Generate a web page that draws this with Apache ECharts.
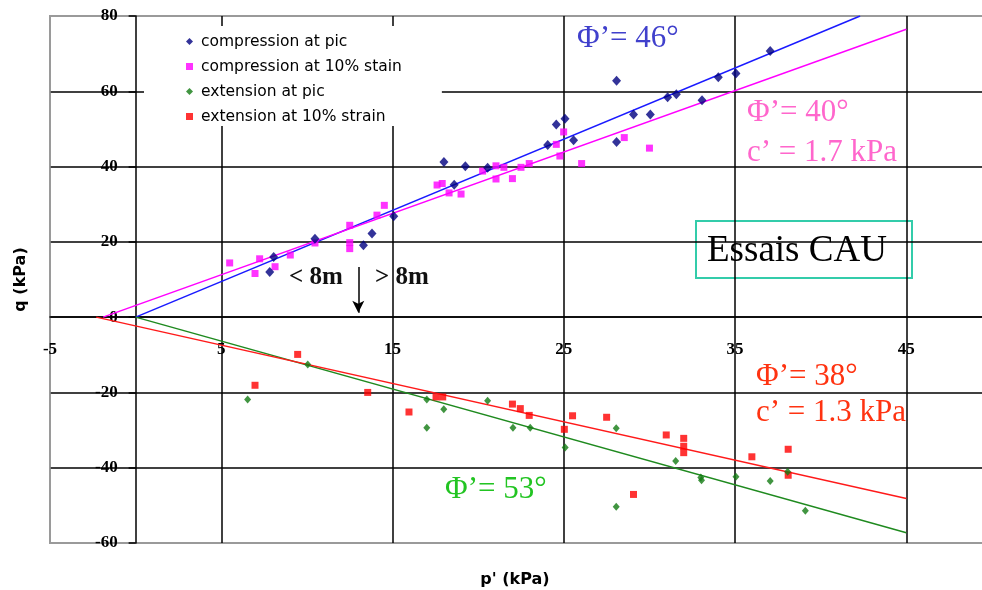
<!DOCTYPE html>
<html>
<head>
<meta charset="utf-8">
<script src="https://cdn.jsdelivr.net/npm/echarts@6/dist/echarts.min.js"></script>
<style>html,body{margin:0;padding:0;background:#fff;}#chart{width:982px;height:590px;}</style>
</head>
<body>
<div id="chart"></div>
<script>
// ---- data (p' kPa, q kPa) ----
const seriesNames = ['compression at pic', 'compression at 10% stain', 'extension at pic', 'extension at 10% strain'];

const compPicP = [7.83, 8.06, 10.47, 13.3, 13.8, 15.07, 18.0, 18.6, 19.25, 20.55, 24.06, 24.56, 25.07, 25.57, 28.08, 28.08, 29.07, 30.05, 31.06, 31.57, 33.07, 34.02, 35.05, 37.05];
const compPicQ = [12.0, 16.0, 20.8, 19.1, 22.2, 26.8, 41.2, 35.2, 40.1, 39.7, 45.7, 51.2, 52.7, 47.0, 62.8, 46.5, 53.8, 53.8, 58.4, 59.2, 57.6, 63.7, 64.7, 70.7];

const compStrainP = [5.49, 6.97, 7.24, 8.14, 9.03, 10.47, 12.5, 12.5, 12.5, 14.09, 14.52, 17.6, 17.9, 18.3, 19.0, 20.26, 21.04, 21.5, 21.04, 22.0, 22.5, 22.98, 24.56, 24.77, 24.99, 26.04, 28.53, 30.0];
const compStrainQ = [14.4, 11.6, 15.5, 13.4, 16.5, 19.7, 24.4, 19.8, 18.2, 27.1, 29.7, 35.1, 35.5, 33.0, 32.7, 38.8, 40.2, 39.8, 36.7, 36.8, 39.8, 40.8, 45.9, 42.8, 49.2, 40.8, 47.7, 44.9];

const extPicP = [6.54, 10.05, 17.0, 17.0, 17.99, 20.55, 22.03, 23.04, 25.08, 28.06, 28.06, 31.53, 33.0, 33.04, 35.05, 37.05, 38.07, 39.1];
const extPicQ = [-21.9, -12.6, -21.9, -29.4, -24.5, -22.2, -29.4, -29.4, -34.6, -29.5, -50.4, -38.2, -42.6, -43.3, -42.4, -43.5, -41.1, -51.4];

const extStrainP = [6.97, 9.46, 13.55, 15.96, 17.54, 17.93, 22.0, 22.46, 22.98, 25.03, 25.51, 27.5, 29.07, 30.98, 32.0, 32.0, 32.0, 35.98, 38.1, 38.1];
const extStrainQ = [-18.1, -9.9, -20.0, -25.2, -21.2, -21.2, -23.1, -24.3, -26.1, -29.8, -26.2, -26.6, -47.1, -31.3, -32.2, -34.3, -36.0, -37.1, -35.1, -42.0];

// failure lines (end points)
const lineComp46 = [[0, 0], [42.3, 80]];
const lineComp40 = [[-1.9, 0], [45, 76.5]];
const lineExt53 = [[0, 0], [45, -57.3]];
const lineExt38 = [[-2.3, 0], [45, -48.2]];

// depth arrow
const depthArrow = [[13, 13.3], [13, 1.2]];

// axis ranges / ticks
const xMin = -5, xMax = 50;
const yMin = -60, yMax = 80;
const xTickLabels = [-5, 5, 15, 25, 35, 45];

const pairs = (a, b) => a.map((v, i) => [v, b[i]]);

const chart = echarts.init(document.getElementById('chart'));

const serif = '"Liberation Serif", "Times New Roman", serif';
const sansB = '"DejaVu Sans", sans-serif';

// grid geometry
const G = { left: 50, top: 16, width: 942, height: 527 };
// place axes through the origin (offset inward from grid edges)
const xAxisOffset = -(G.height * (0 - yMin) / (yMax - yMin));
const yAxisOffset = -(G.width * (0 - xMin) / (xMax - xMin));

// split line colours (boundary lines grey)
const xSplit = [];
for (let v = xMin; v <= xMax; v += 5) {
  if (v === xMin) xSplit.push('#9a9a9a');
  else if (xTickLabels.indexOf(v) >= 0) xSplit.push('#000');
  else xSplit.push('rgba(0,0,0,0)');
}
const ySplit = [];
for (let v = yMin; v <= yMax; v += 20) ySplit.push((v === yMin || v === yMax) ? '#9a9a9a' : '#000');

const lineSeries = (data, color) => ({
  type: 'line', data: data, showSymbol: false, symbol: 'none', silent: true,
  lineStyle: { color: color, width: 1.5 }, z: 3, animation: false
});

const option = {
  animation: false,
  backgroundColor: '#fff',
  grid: {
    left: G.left, top: G.top, width: G.width, height: G.height,
    containLabel: false, outerBoundsMode: 'none',
    show: true, borderColor: '#9a9a9a', borderWidth: 2, backgroundColor: 'transparent'
  },
  xAxis: {
    type: 'value', min: xMin, max: xMax, interval: 5,
    position: 'bottom', offset: xAxisOffset,
    name: "p' (kPa)", nameLocation: 'middle', nameGap: 255,
    nameTextStyle: { fontFamily: sansB, fontWeight: 'bold', fontSize: 16, color: '#000', padding: [0, 12, 0, 0] },
    axisLine: { show: true, onZero: false, lineStyle: { color: '#000', width: 1.5 } },
    axisTick: { show: false },
    axisLabel: {
      margin: 24, fontFamily: serif, fontWeight: 'bold', fontSize: 17, color: '#000',
      formatter: v => (xTickLabels.indexOf(v) >= 0 ? String(v) : '')
    },
    splitLine: { show: true, lineStyle: { color: xSplit, width: 1.5 } }
  },
  yAxis: {
    type: 'value', min: yMin, max: yMax, interval: 20,
    position: 'left', offset: yAxisOffset,
    name: 'q (kPa)', nameLocation: 'middle', nameGap: 107,
    nameTextStyle: { fontFamily: sansB, fontWeight: 'bold', fontSize: 16, color: '#000' },
    axisLine: { show: true, onZero: false, lineStyle: { color: '#000', width: 1.5 } },
    axisTick: { show: true, inside: false, length: 7, lineStyle: { color: '#000', width: 1.5 } },
    axisLabel: { margin: 18, fontFamily: serif, fontWeight: 'bold', fontSize: 17, color: '#000' },
    splitLine: { show: true, lineStyle: { color: ySplit, width: 1.5 } }
  },
  legend: {
    data: seriesNames,
    orient: 'vertical', left: 144, top: 26,
    padding: [7, 40, 1, 42],
    backgroundColor: '#fff',
    itemWidth: 7, itemHeight: 7, itemGap: 8,
    textStyle: { fontFamily: sansB, fontSize: 15.5, color: '#000', lineHeight: 17, padding: [0, 0, 0, 3] },
    selectedMode: false
  },
  series: [
    lineSeries(lineComp46, '#1a1aff'),
    lineSeries(lineComp40, '#ff00ff'),
    lineSeries(lineExt53, '#1f8a1f'),
    lineSeries(lineExt38, '#ff1a1a'),
    {
      name: seriesNames[0], type: 'scatter', data: pairs(compPicP, compPicQ),
      symbol: 'diamond', symbolSize: [9, 10], itemStyle: { color: '#000080' }, z: 5
    },
    {
      name: seriesNames[1], type: 'scatter', data: pairs(compStrainP, compStrainQ),
      symbol: 'rect', symbolSize: 7, itemStyle: { color: '#ff00ff' }, z: 4
    },
    {
      name: seriesNames[2], type: 'scatter', data: pairs(extPicP, extPicQ),
      symbol: 'diamond', symbolSize: [7, 8], itemStyle: { color: '#117a11' }, z: 5
    },
    {
      name: seriesNames[3], type: 'scatter', data: pairs(extStrainP, extStrainQ),
      symbol: 'rect', symbolSize: 7, itemStyle: { color: '#ff0000' }, z: 4,
      markLine: {
        silent: true, symbol: ['none', 'arrow'], symbolSize: [9, 12],
        label: { show: false },
        lineStyle: { color: '#000', width: 1.5, type: 'solid' },
        data: [[{ coord: depthArrow[0] }, { coord: depthArrow[1] }]]
      }
    }
  ],
  graphic: [
    { type: 'text', x: 577, y: 39, style: { text: 'Φ’= 46°', fill: '#4040cc', font: '31px ' + serif, verticalAlign: 'middle' } },
    { type: 'text', x: 747, y: 113, style: { text: 'Φ’= 40°', fill: '#ff66cc', font: '31px ' + serif, verticalAlign: 'middle' } },
    { type: 'text', x: 747, y: 153, style: { text: 'c’ = 1.7 kPa', fill: '#ff66cc', font: '31px ' + serif, verticalAlign: 'middle' } },
    { type: 'text', x: 756, y: 377, style: { text: 'Φ’= 38°', fill: '#ff3311', font: '31px ' + serif, verticalAlign: 'middle' } },
    { type: 'text', x: 756, y: 413, style: { text: 'c’ = 1.3 kPa', fill: '#ff3311', font: '31px ' + serif, verticalAlign: 'middle' } },
    { type: 'text', x: 445, y: 490, style: { text: 'Φ’= 53°', fill: '#22c422', font: '31px ' + serif, verticalAlign: 'middle' } },
    { type: 'rect', shape: { x: 696, y: 221, width: 216, height: 57 }, style: { fill: 'none', stroke: '#33ccaa', lineWidth: 2 } },
    { type: 'text', x: 707, y: 251, style: { text: 'Essais CAU', fill: '#000', font: '37px ' + serif, verticalAlign: 'middle' } },
    { type: 'text', x: 289, y: 278, style: { text: '< 8m', fill: '#111', font: 'bold 25px ' + serif, verticalAlign: 'middle' } },
    { type: 'text', x: 375, y: 278, style: { text: '> 8m', fill: '#111', font: 'bold 25px ' + serif, verticalAlign: 'middle' } }
  ]
};

chart.setOption(option);
</script>
</body>
</html>
